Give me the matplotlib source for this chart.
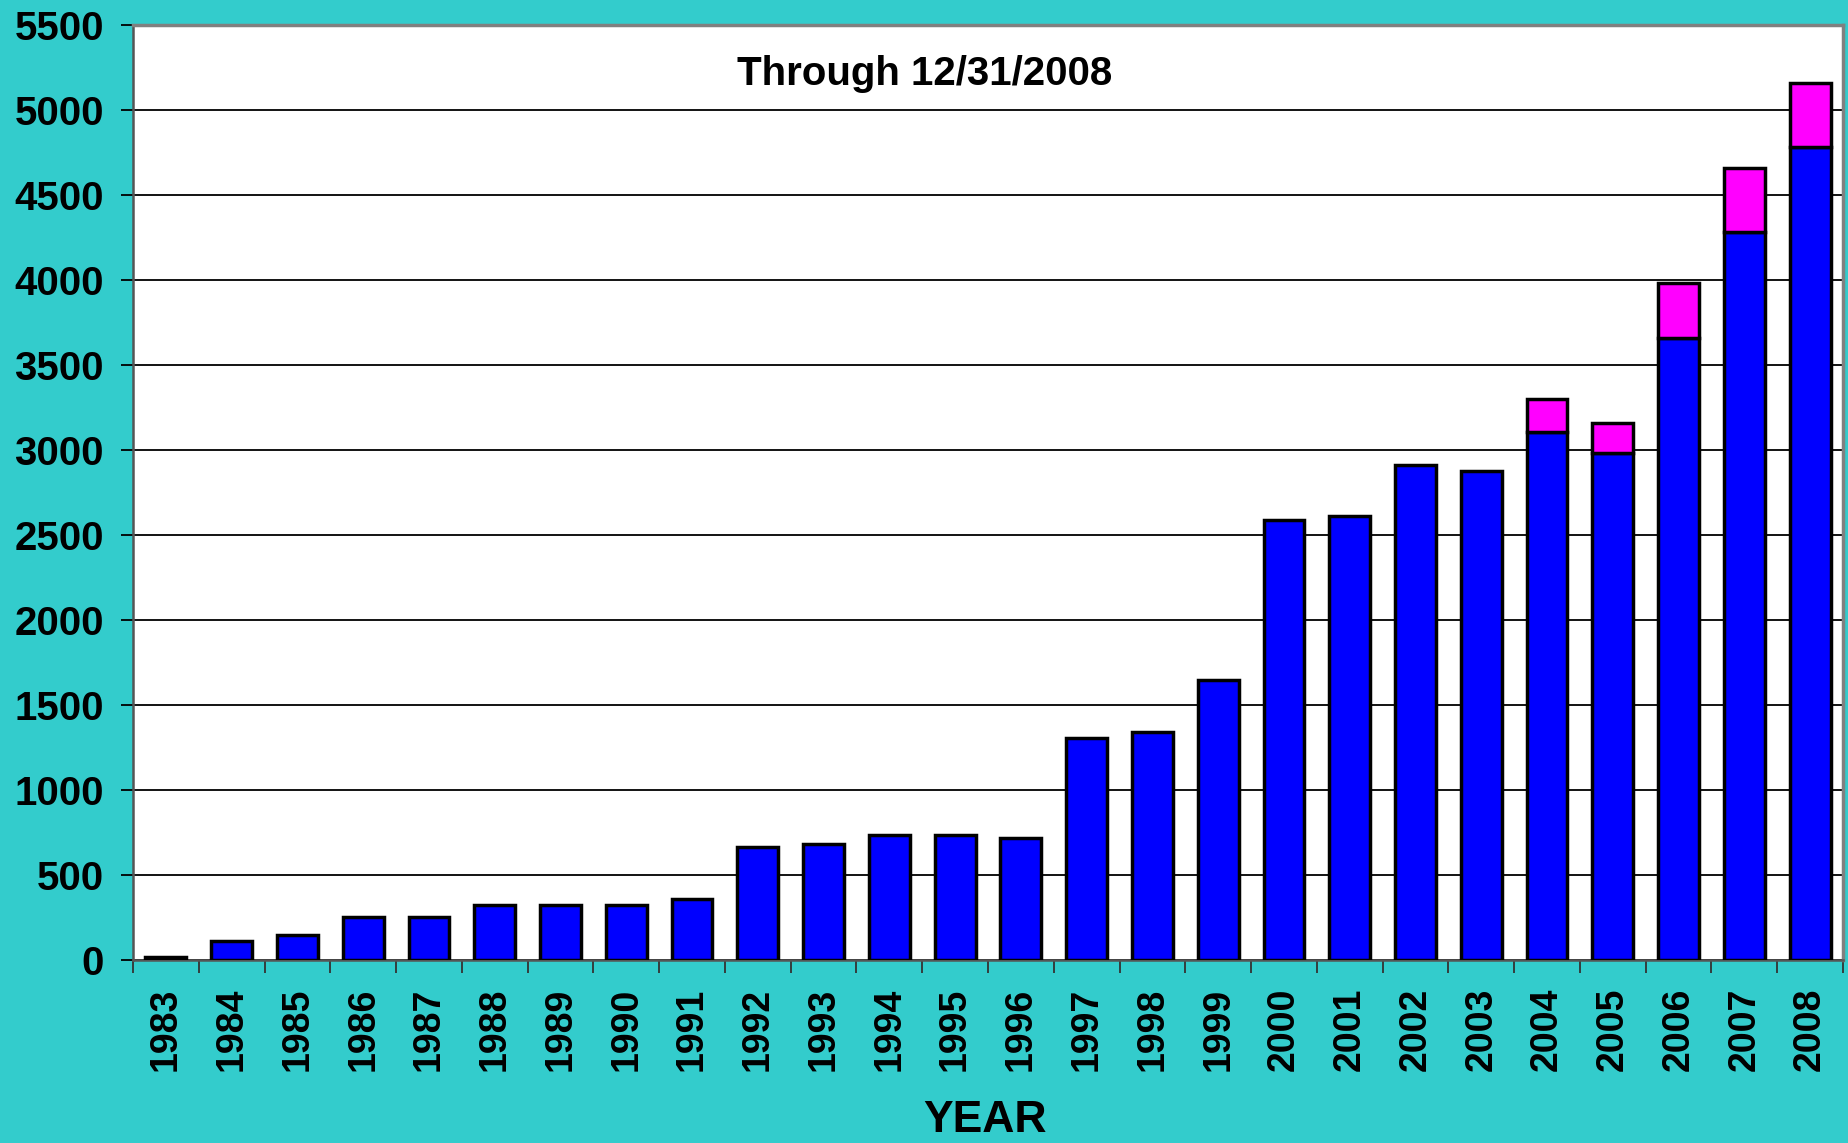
import matplotlib
matplotlib.use("Agg")
import matplotlib.pyplot as plt
import numpy as np

years = [str(y) for y in range(1983, 2009)]
base_values = [20, 110, 145, 255, 255, 325, 325, 325, 360, 665, 680, 735, 735, 715,
               1305, 1340, 1645, 2590, 2610, 2910, 2875, 3105, 2980, 3660, 4285, 4785]
extra_values = [0] * 21 + [195, 180, 320, 375, 375]
yticks = list(range(0, 5501, 500))

plt.rcParams['font.family'] = ['Liberation Sans', 'DejaVu Sans']
bg = '#33CCCC'
fig = plt.figure(figsize=(18.49, 11.43), dpi=100, facecolor=bg)
ax = fig.add_axes([133/1849, 1 - 960/1143, (1843-133)/1849, (960-25)/1143])
ax.set_facecolor('white')

x = np.arange(len(years))
ax.bar(x, base_values, width=0.62, color='#0000FF', edgecolor='black', linewidth=2.5, zorder=3)
ext = np.array(extra_values)
mask = ext > 0
ax.bar(x[mask], ext[mask], bottom=np.array(base_values)[mask], width=0.62,
       color='#FF00FF', edgecolor='black', linewidth=2.5, zorder=3)

ax.set_xlim(-0.5, len(years) - 0.5)
ax.set_ylim(0, 5500)
ax.set_yticks(yticks)
ax.set_yticklabels([str(v) for v in yticks], fontsize=29, fontweight='bold')
ax.yaxis.grid(True, color='black', linewidth=1.3, zorder=0)
ax.tick_params(axis='y', direction='out', length=9, width=1.3, pad=12)

ax.set_xticks(x)
ax.set_xticklabels(years, rotation=90, fontsize=27, fontweight='bold')
ax.tick_params(axis='x', which='major', length=0, pad=20)
ax.set_xticks(np.arange(-0.5, len(years) + 0.5, 1), minor=True)
ax.tick_params(axis='x', which='minor', direction='out', length=9, width=1.3, color='#333333')

for s in ['top', 'right']:
    ax.spines[s].set_color('#808080')
    ax.spines[s].set_linewidth(2.5)
for s in ['left', 'bottom']:
    ax.spines[s].set_color('#555555')
    ax.spines[s].set_linewidth(1.8)

ax.text((925 - 133) / 1710, (960 - 85) / 935, 'Through 12/31/2008', transform=ax.transAxes,
        ha='center', va='baseline', fontsize=29, fontweight='bold')
fig.text(985/1849, 1 - 1141/1143, 'YEAR', ha='center', va='bottom', fontsize=32, fontweight='bold')

fig.savefig('out.png', dpi=100, facecolor=bg)
